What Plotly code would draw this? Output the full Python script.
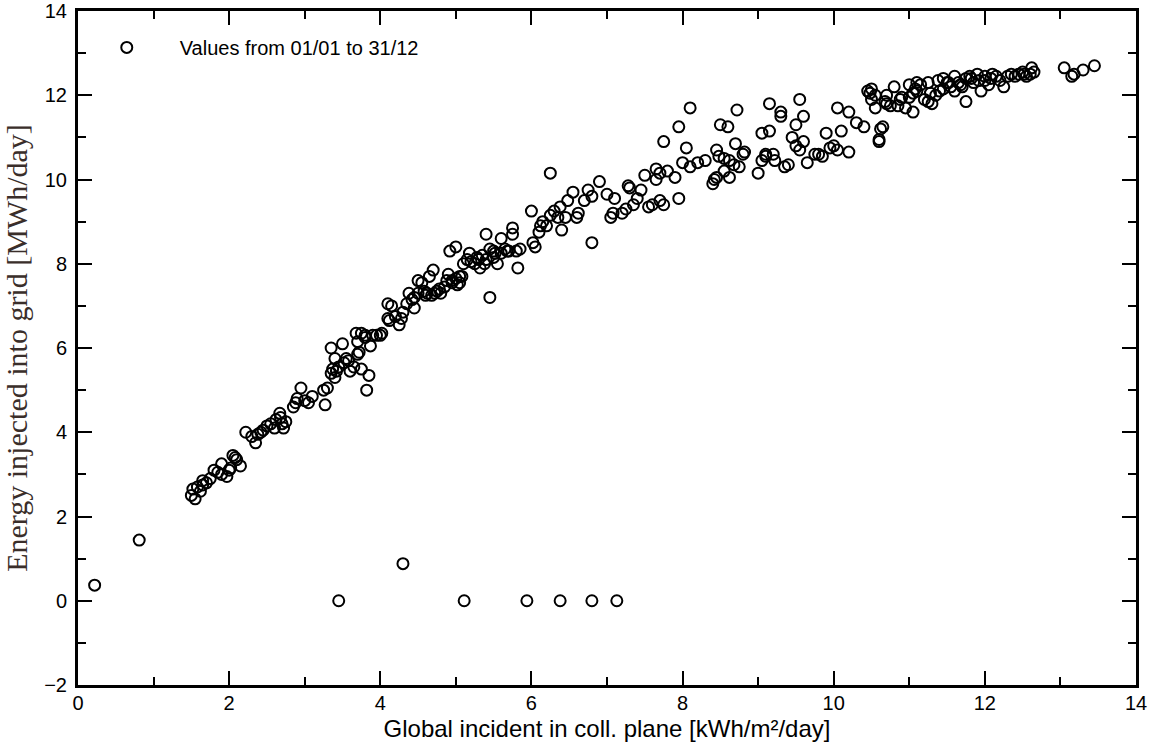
import plotly.graph_objects as go

# Global incident irradiation in collector plane [kWh/m²/day]
x_vals = [
    0.22, 0.81, 3.45, 4.30, 5.11, 5.94, 6.38, 6.80, 7.13,
    1.50, 1.52, 1.55, 1.62, 1.65, 1.65, 1.75, 1.80, 1.85, 1.90, 1.90, 1.97, 2.02, 2.05, 2.08, 2.10, 2.15,
    2.22, 2.30, 2.35, 2.38, 2.42, 2.45, 2.55, 2.60, 2.62, 2.67, 2.68, 2.70, 2.72, 2.75,
    2.85, 2.88, 2.90, 2.95, 3.00, 3.05, 3.25, 3.27, 3.30, 3.35, 3.37, 3.40, 3.40, 3.35, 3.45,
    3.50, 3.52, 3.55, 3.60, 3.65, 3.68, 3.70, 3.70, 3.72, 3.75, 3.75, 3.80, 3.80, 3.82, 3.85,
    3.87, 3.90, 4.00, 4.02, 4.10, 4.12, 4.10, 4.15, 4.25, 4.28, 4.30, 4.35, 4.38, 4.42, 4.45,
    4.45, 4.50, 4.50, 4.55, 4.60, 4.62, 4.65, 4.70, 4.72, 4.75, 4.80, 4.85, 4.90, 4.92, 4.95,
    4.95, 5.00, 5.00, 5.02, 5.05, 5.05, 5.10, 5.15, 5.18, 5.20, 5.25, 5.30, 5.32, 5.35, 5.38,
    5.40, 5.40, 5.45, 5.45, 5.50, 5.50, 5.55, 5.60, 5.60, 5.65, 5.70, 5.75, 5.75, 5.80, 5.82,
    5.85, 6.00, 6.02, 6.05, 6.10, 6.12, 6.20, 6.25, 6.25, 6.35, 6.38, 6.40, 6.45, 6.55, 6.60,
    6.70, 6.75, 6.80, 6.80, 6.90, 7.05, 7.08, 7.10, 7.20, 7.25, 7.28, 7.30, 7.35, 7.40, 7.50,
    7.55, 7.60, 7.65, 7.65, 7.70, 7.75, 7.75, 7.80, 7.90, 7.95, 7.95, 8.00, 8.05, 8.10, 8.10,
    8.20, 8.40, 8.42, 8.45, 8.45, 8.50, 8.55, 8.55, 8.60, 8.62, 8.62, 8.70, 8.72, 8.75, 8.80,
    8.82, 9.00, 9.05, 9.05, 9.10, 9.15, 9.15, 9.20, 9.22, 9.30, 9.30, 9.35, 9.40, 9.50, 9.50,
    9.55, 9.55, 9.60, 9.60, 9.65, 9.75, 9.80, 9.85, 9.90, 9.95, 10.05, 10.05, 10.10, 10.20, 10.20,
    10.30, 10.45, 10.50, 10.50, 10.55, 10.55, 10.60, 10.60, 10.62, 10.65, 10.70, 10.70, 10.75, 10.80, 10.85,
    10.90, 10.95, 11.00, 11.00, 11.05, 11.05, 11.10, 11.10, 11.15, 11.20, 11.25, 11.25, 11.30, 11.35, 11.40,
    11.45, 11.45, 11.50, 11.55, 11.60, 11.60, 11.65, 11.70, 11.75, 11.75, 11.80, 11.85, 11.90, 11.95, 12.00,
    12.00, 12.05, 12.10, 12.15, 12.25, 12.30, 12.35, 12.45, 12.50, 12.55, 12.60, 12.62, 12.65,
    13.05, 13.15, 13.18, 13.30, 13.45,
    1.58, 1.70, 2.00, 2.50, 3.10, 3.42, 3.58, 3.95, 4.20, 4.58, 4.68, 4.78, 4.88, 5.08, 5.28,
    5.52, 5.68, 6.15, 6.30, 6.48, 6.62, 7.00, 7.45, 7.70, 8.30, 8.48, 8.68, 9.10, 9.45, 10.00,
    10.40, 10.48, 10.68, 10.88, 11.08, 11.28, 11.38, 11.52, 11.68, 11.82, 11.92, 12.08, 12.20, 12.40, 12.52,
]

# Energy injected into grid [MWh/day]
y_vals = [
    0.37, 1.44, 0.00, 0.88, 0.00, 0.00, 0.00, 0.00, 0.00,
    2.50, 2.65, 2.42, 2.60, 2.75, 2.85, 2.90, 3.10, 3.05, 3.25, 3.00, 2.95, 3.15, 3.45, 3.40, 3.35, 3.20,
    4.00, 3.90, 3.75, 3.95, 4.00, 4.05, 4.20, 4.10, 4.30, 4.45, 4.35, 4.20, 4.10, 4.25,
    4.60, 4.70, 4.80, 5.05, 4.75, 4.70, 5.00, 4.65, 5.05, 5.40, 5.50, 5.30, 5.75, 6.00, 5.55,
    6.10, 5.65, 5.75, 5.45, 5.55, 6.35, 6.15, 5.85, 5.90, 6.35, 5.50, 6.30, 6.25, 5.00, 5.35,
    6.05, 6.30, 6.30, 6.35, 6.70, 6.65, 7.05, 7.00, 6.55, 6.70, 6.85, 7.05, 7.30, 7.15, 7.20,
    6.95, 7.60, 7.30, 7.55, 7.25, 7.30, 7.70, 7.85, 7.30, 7.35, 7.30, 7.45, 7.75, 8.30, 7.55,
    7.60, 7.65, 8.40, 7.50, 7.70, 7.55, 8.00, 8.10, 8.25, 8.05, 8.00, 8.10, 7.90, 8.20, 8.00,
    8.10, 8.70, 8.35, 7.20, 8.30, 8.15, 8.00, 8.60, 8.25, 8.35, 8.30, 8.85, 8.70, 8.30, 7.90,
    8.35, 9.25, 8.50, 8.40, 8.75, 8.90, 8.90, 9.15, 10.15, 9.10, 9.35, 8.80, 9.10, 9.70, 9.10,
    9.50, 9.75, 9.60, 8.50, 9.95, 9.10, 9.20, 9.55, 9.20, 9.30, 9.85, 9.80, 9.40, 9.55, 10.10,
    9.35, 9.40, 10.00, 10.25, 9.50, 10.90, 9.40, 10.20, 10.05, 11.25, 9.55, 10.40, 10.75, 10.30, 11.70,
    10.40, 9.90, 10.00, 10.70, 10.05, 11.30, 10.50, 10.20, 11.25, 10.45, 10.05, 10.85, 11.65, 10.30, 10.60,
    10.65, 10.15, 10.45, 11.10, 10.55, 11.15, 11.80, 10.60, 10.45, 11.50, 11.60, 10.30, 10.35, 11.30, 10.80,
    11.90, 10.70, 11.50, 10.90, 10.40, 10.60, 10.60, 10.55, 11.10, 10.75, 11.70, 10.70, 11.15, 11.60, 10.65,
    11.35, 12.10, 12.15, 11.90, 11.70, 12.00, 10.95, 10.90, 11.20, 11.25, 12.00, 11.80, 11.75, 12.20, 11.75,
    11.95, 11.70, 12.25, 11.95, 12.05, 11.60, 12.30, 12.10, 12.25, 11.90, 12.30, 11.85, 11.80, 12.00, 12.10,
    12.15, 12.40, 12.30, 12.20, 12.45, 12.10, 12.30, 12.20, 11.85, 12.40, 12.45, 12.30, 12.50, 12.10, 12.35,
    12.45, 12.25, 12.50, 12.45, 12.20, 12.45, 12.50, 12.50, 12.55, 12.45, 12.50, 12.65, 12.55,
    12.65, 12.45, 12.50, 12.60, 12.70,
    2.70, 2.80, 3.10, 4.15, 4.85, 5.45, 5.70, 6.30, 6.75, 7.35, 7.25, 7.40, 7.60, 7.70, 8.15,
    8.25, 8.30, 9.00, 9.25, 9.50, 9.20, 9.65, 9.75, 10.15, 10.45, 10.55, 10.35, 10.60, 11.00, 10.80,
    11.25, 12.05, 11.85, 11.90, 12.15, 12.05, 12.35, 12.30, 12.25, 12.40, 12.35, 12.40, 12.35, 12.45, 12.50,
]

legend_label = "Values from 01/01 to 31/12"

sans = "Liberation Sans, Arial"

fig = go.Figure()
fig.add_trace(go.Scatter(
    x=x_vals, y=y_vals, mode="markers", name=legend_label,
    marker=dict(symbol="circle-open", size=11, color="black",
                line=dict(width=2, color="black")),
))

def axis_style():
    return dict(
        showline=True, linewidth=3, linecolor="black", mirror="ticks",
        ticks="inside", ticklen=14, tickwidth=1.5, tickcolor="black",
        showgrid=False, zeroline=False, automargin=False,
        ticklabeloverflow="allow",
        minor=dict(ticks="inside", ticklen=8, tickwidth=1.5, tickcolor="black",
                   dtick=1, showgrid=False),
    )

fig.update_layout(
    width=1157, height=749,
    font=dict(family=sans, size=20, color="black"),
    margin=dict(l=78, r=21, t=11, b=64, autoexpand=False),
    paper_bgcolor="white", plot_bgcolor="white",
    showlegend=True,
    legend=dict(x=-0.004, y=0.946, xanchor="left", yanchor="middle",
                bgcolor="rgba(0,0,0,0)", itemwidth=96,
                font=dict(family=sans, size=20, color="black")),
)

fig.update_xaxes(
    range=[0, 14], dtick=2, tick0=0, ticklabelstandoff=-2,
    tickfont=dict(family=sans, size=20, color="black"),
    title=dict(text="Global incident in coll. plane [kWh/m²/day]", standoff=8,
               font=dict(family=sans, size=24, color="black")),
    **axis_style(),
)
fig.update_yaxes(
    range=[-2, 14], dtick=2, tick0=0, ticklabelstandoff=4,
    tickfont=dict(family=sans, size=20, color="black"),
    title=dict(text="Energy injected into grid [MWh/day]", standoff=8,
               font=dict(family="Liberation Serif, Times New Roman", size=30, color="#3a2e2a")),
    **axis_style(),
)

fig.write_html("out.html", config={"displayModeBar": False},
               post_script="document.body.style.margin='0';document.body.style.overflow='hidden';")
